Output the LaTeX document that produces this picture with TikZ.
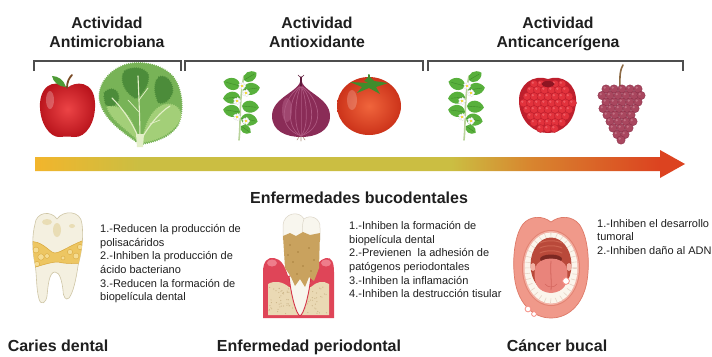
\documentclass[tikz,border=0pt]{standalone}
\usepackage{fontspec}
\setmainfont{Liberation Sans}
\usetikzlibrary{decorations.pathmorphing}

% text and lines
\definecolor{ink}{HTML}{1F1F1F}
\definecolor{bracketgray}{HTML}{4E4E4E}
% arrow gradient
\definecolor{arwA}{HTML}{F2B52C}
\definecolor{arwB}{HTML}{CBBE42}
\definecolor{arwC}{HTML}{D8862F}
\definecolor{arwD}{HTML}{DC4320}
% fruits and vegetables
\definecolor{applered}{HTML}{D9252B}
\definecolor{applelight}{HTML}{EC4446}
\definecolor{appledark}{HTML}{BA151D}
\definecolor{stembrown}{HTML}{7A4A26}
\definecolor{leafgreen}{HTML}{4E9A35}
\definecolor{lettdark}{HTML}{4C8C3A}
\definecolor{lettmid}{HTML}{78B357}
\definecolor{lettlight}{HTML}{A3CF78}
\definecolor{lettpale}{HTML}{E3EFC8}
\definecolor{sprigleaf}{HTML}{58B03C}
\definecolor{sprigvein}{HTML}{3F8A2A}
\definecolor{sprigstem}{HTML}{B8D39A}
\definecolor{onionbase}{HTML}{8A2C57}
\definecolor{onionstripe}{HTML}{AD5880}
\definecolor{oniondark}{HTML}{5E1A3B}
\definecolor{tomred}{HTML}{E1441F}
\definecolor{tomdark}{HTML}{CC331A}
\definecolor{tomlight}{HTML}{F0653C}
\definecolor{calyx}{HTML}{3F8C2C}
\definecolor{rasp}{HTML}{E2323C}
\definecolor{raspline}{HTML}{BE1F2D}
\definecolor{rasplight}{HTML}{EE5A62}
\definecolor{raspnotch}{HTML}{8E1522}
\definecolor{grape}{HTML}{A9475F}
\definecolor{grapeline}{HTML}{8B3049}
\definecolor{grapelight}{HTML}{C06F82}
\definecolor{grapestem}{HTML}{8C6A45}
% teeth and mouth
\definecolor{enamel}{HTML}{F4F0E0}
\definecolor{enamelline}{HTML}{CFC6A6}
\definecolor{enameltan}{HTML}{E9DDB5}
\definecolor{cariesY}{HTML}{EDC662}
\definecolor{cariesL}{HTML}{F5DC92}
\definecolor{cariesD}{HTML}{D9A83C}
\definecolor{gumred}{HTML}{DF4558}
\definecolor{gumlight}{HTML}{F28C98}
\definecolor{bone}{HTML}{EAD9B4}
\definecolor{bonedot}{HTML}{CDB68A}
\definecolor{calculus}{HTML}{C9A25E}
\definecolor{calculusdark}{HTML}{A8803F}
\definecolor{crownw}{HTML}{F8F6EE}
\definecolor{crownline}{HTML}{DCD6C8}
\definecolor{socket}{HTML}{D43347}
\definecolor{lip}{HTML}{F0998A}
\definecolor{lipline}{HTML}{DE7A68}
\definecolor{gumpink}{HTML}{F2B0A3}
\definecolor{toothw}{HTML}{FBF5EC}
\definecolor{toothgap}{HTML}{E6D3C6}
\definecolor{cavity}{HTML}{B9493A}
\definecolor{palate}{HTML}{CC6350}
\definecolor{throat}{HTML}{7C2822}
\definecolor{tongue}{HTML}{E9847B}
\definecolor{tonguemid}{HTML}{D2645C}

\pgfdeclarehorizontalshading{arrowshade}{100bp}{color(0bp)=(arwA); color(25bp)=(arwA); color(33bp)=(arwB); color(57bp)=(arwB); color(63bp)=(arwC); color(73bp)=(arwD); color(100bp)=(arwD)}

\tikzset{
  title/.style={font=\fontsize{15.8}{19}\selectfont\bfseries, text=ink, inner sep=0pt, anchor=base},
  heading/.style={font=\fontsize{16}{19}\selectfont\bfseries, text=ink, inner sep=0pt, anchor=base},
  body/.style={font=\fontsize{11}{13.7}\selectfont, text=ink, align=left, anchor=north west, inner sep=0pt},
  bracketline/.style={draw=bracketgray, line width=1.6pt, line cap=butt, line join=miter},
  ruffle/.style={decorate, decoration={bumps, segment length=4pt, amplitude=1.4pt}},
  lf/.pic={
    \fill[sprigleaf] (0,0) .. controls (2,-8) and (13,-8) .. (17,0) .. controls (13,8) and (2,8) .. (0,0) -- cycle;
    \draw[sprigvein, line width=0.4pt] (1,0) -- (14,0);
  },
  blossom/.pic={
    \foreach \a in {0,72,144,216,288}
      \fill[white, draw=black!15, line width=0.2pt] (\a:2pt) circle[radius=1.9pt];
    \fill[yellow!75!orange] (0,0) circle[radius=1.1pt];
  },
  sprig/.pic={
    \draw[sprigstem, line width=1.6pt] (239,140) .. controls (241,120) and (239,100) .. (244,76);
    \pic[rotate=30, scale=0.85] at (244,80) {lf};
    \pic[rotate=165] at (240,86) {lf};
    \pic[rotate=8] at (243,90) {lf};
    \pic[rotate=185] at (240,97) {lf};
    \pic[rotate=-5] at (242,106) {lf};
    \pic[rotate=172] at (240,112) {lf};
    \pic[rotate=-12] at (241,118) {lf};
    \pic[rotate=-35, scale=0.7] at (241,126) {lf};
    \pic at (242,86) {blossom};
    \pic at (246,93) {blossom};
    \pic at (237,101) {blossom};
    \pic at (237,117) {blossom};
    \pic at (246,121) {blossom};
  }
}

\begin{document}
\begin{tikzpicture}[x=1pt, y=-1pt, line join=round, line cap=round]
\useasboundingbox (0,0) rectangle (712,356);
\fill[white] (0,0) rectangle (712,356);

% ---------- activity titles ----------
\node[title] (ta1) at (107,28) {Actividad};
\node[title] (ta2) at (107,47.5) {Antimicrobiana};
\node[title] (tb1) at (317,28) {Actividad};
\node[title] (tb2) at (317,47.5) {Antioxidante};
\node[title] (tc1) at (558,28) {Actividad};
\node[title] (tc2) at (558,47.5) {Anticancerígena};

% ---------- brackets ----------
\coordinate (ka) at (34,71);  \coordinate (kb) at (181,71);
\coordinate (kc) at (185,71); \coordinate (kd) at (423,71);
\coordinate (ke) at (428,71); \coordinate (kf) at (683,71);
\draw[bracketline] (ka) -- ++(0,-10) -| (kb);
\draw[bracketline] (kc) -- ++(0,-10) -| (kd);
\draw[bracketline] (ke) -- ++(0,-10) -| (kf);

% ---------- apple ----------
\shade[inner color=applelight, outer color=appledark] (67,88) .. controls (60,81) and (42,80) .. (40,103) .. controls (39,123) and (50,138) .. (60,137) .. controls (64,136.5) and (70,136.5) .. (74,137) .. controls (86,138) and (96,122) .. (95,103) .. controls (94,80) and (75,81) .. (67,88) -- cycle;
\fill[white, opacity=0.25] (50,100) ellipse[x radius=4pt, y radius=9pt];
\draw[stembrown, line width=1.8pt] (67,88) .. controls (67,82) and (69,78) .. (72,75);
\fill[leafgreen] (66,87) .. controls (64,80) and (58,76) .. (52,76) .. controls (53,82) and (59,87) .. (66,87) -- cycle;

% ---------- lettuce ----------
\path[fill=lettmid, ruffle] (140,144) .. controls (124,132) and (104,120) .. (100,100) .. controls (98,84) and (110,70) .. (126,65) .. controls (140,61) and (160,64) .. (172,76) .. controls (182,88) and (184,110) .. (178,124) .. controls (170,138) and (152,142) .. (140,144) -- cycle;
\path[fill=lettdark, ruffle] (124,72) .. controls (132,66) and (146,68) .. (148,76) .. controls (148,86) and (142,94) .. (136,98) .. controls (128,94) and (120,84) .. (124,72) -- cycle;
\path[fill=lettdark, ruffle] (158,78) .. controls (165,74) and (173,82) .. (172,92) .. controls (170,99) and (164,104) .. (159,102) .. controls (155,95) and (154,85) .. (158,78) -- cycle;
\path[fill=lettdark, ruffle] (104,94) .. controls (110,86) and (119,90) .. (118,99) .. controls (116,106) and (110,107) .. (106,104) -- cycle;
\path[fill=lettlight, ruffle] (142,142) .. controls (146,126) and (150,112) .. (162,106) .. controls (172,102) and (182,108) .. (180,118) .. controls (176,130) and (160,140) .. (142,142) -- cycle;
\path[fill=lettlight, ruffle] (138,140) .. controls (126,128) and (112,120) .. (108,108) .. controls (118,104) and (130,112) .. (138,140) -- cycle;
\draw[lettpale, line width=1.1pt] (140,142) .. controls (134,125) and (124,110) .. (112,98);
\draw[lettpale, line width=1.1pt] (140,142) .. controls (140,122) and (139,100) .. (138,76);
\draw[lettpale, line width=1.1pt] (140,142) .. controls (148,126) and (160,112) .. (170,106);
\draw[lettpale, line width=0.7pt] (139,112) -- (128,100) (139,100) -- (148,88) (150,124) -- (160,120);
\fill[lettpale] (136,134) -- (144,134) -- (143,147) -- (137,147) -- cycle;

% ---------- herb sprigs ----------
\pic (sprigA) at (0,0) {sprig};
\pic (sprigB) at (225,0) {sprig};

% ---------- red onion ----------
\path[fill=onionbase] (301,79) .. controls (302,92) and (330,97) .. (330,116) .. controls (330,131) and (316,137) .. (301,137) .. controls (286,137) and (272,131) .. (272,116) .. controls (272,97) and (300,92) .. (301,79) -- cycle;
\foreach \k in {-22,-14,-7,0,7,14,22}
  \draw[onionstripe, line width=0.7pt] (301,86) .. controls ({301+0.75*\k},96) and ({301+1.25*\k},126) .. (301,136);
\fill[onionstripe, opacity=0.6] (287,110) ellipse[x radius=5pt, y radius=12pt];
\draw[oniondark, line width=1.4pt] (301,86) -- (301,77);
\draw[oniondark, line width=0.6pt] (301,78) -- (298,75) (301,78) -- (304,75);
\draw[stembrown!60, line width=0.6pt] (299,137) -- (297,140) (301,137) -- (301,141) (303,137) -- (305,140);

% ---------- tomato ----------
\shade[inner color=tomlight, outer color=tomdark] (369,106) ellipse[x radius=32pt, y radius=29pt];
\fill[white, opacity=0.2] (352,100) ellipse[x radius=5pt, y radius=10pt];
\fill[calyx] (369,83) -- (350,82) -- (362,87) -- (357,93) -- (369,88) -- (380,94) -- (376,87) -- (388,83) -- (374,81) -- (369,76) -- (364,81) -- cycle;
\draw[calyx, line width=2pt] (369,84) -- (369,75);

% ---------- raspberry ----------
\fill[raspline] (548,79) .. controls (562,74) and (577,84) .. (576,102) .. controls (575,122) and (562,133) .. (548,133) .. controls (534,133) and (520,122) .. (519,102) .. controls (518,84) and (534,74) .. (548,79) -- cycle;
\foreach \y/\xs in {84/{534,541,555,562},
                   90/{530.5,537.5,544.5,551.5,558.5,565.5},
                   96.5/{527,534,541,548,555,562,569},
                   103/{523.5,530.5,537.5,544.5,551.5,558.5,565.5,572.5},
                   109.5/{527,534,541,548,555,562,569},
                   116/{530.5,537.5,544.5,551.5,558.5,565.5},
                   122.5/{534,541,548,555,562},
                   128.5/{540.5,547.5,554.5}}{
  \foreach \x in \xs {
    \fill[rasp, draw=raspline, line width=0.4pt] (\x,\y) circle[radius=4pt];
    \fill[rasplight] ({\x-1.2},{\y-1.3}) circle[radius=1.3pt];
  }
}
\fill[raspnotch] (548,84) ellipse[x radius=6.5pt, y radius=3pt];

% ---------- grapes ----------
\draw[grapestem, line width=1.6pt] (623,65) .. controls (619,72) and (620,80) .. (620,90);
\foreach \y/\xs in {89/{606,614,622,630,638},
                   95.5/{602,610,618,626,634,641},
                   102/{606,614,622,630,638},
                   108.5/{603,611,619,627,635},
                   115/{607,615,623,631},
                   121.5/{610,618,626,633},
                   128/{613,621,629},
                   134.5/{617,625},
                   140/{621}}{
  \foreach \x in \xs {
    \fill[grape, draw=grapeline, line width=0.4pt] (\x,\y) circle[radius=4.2pt];
    \fill[grapelight] ({\x-1.3},{\y-1.4}) circle[radius=1.2pt];
  }
}

% ---------- gradient arrow ----------
\coordinate (arrowtail) at (35,164);
\coordinate (arrowtip) at (685,164);
\shade[shading=arrowshade] (35,157) -- (660,157) -- (660,150) -- (arrowtip) -- (660,178) -- (660,171) -- (35,171) -- cycle;

\node[heading] (oral) at (359,203) {Enfermedades bucodentales};

% ---------- molar with caries ----------
\path[fill=enamel, draw=enamelline, line width=0.6pt] (35,224) .. controls (36,212) and (51,210) .. (57,219) .. controls (63,210) and (81,210) .. (82,224) .. controls (84,240) and (81,254) .. (78,266) .. controls (76,280) and (73,293) .. (69,298) .. controls (66,301) and (63,297) .. (63,290) .. controls (62,282) and (60,272) .. (55,272) .. controls (49,272) and (48,286) .. (47,296) .. controls (46,303) and (41,306) .. (39,299) .. controls (36,288) and (37,276) .. (35,264) .. controls (32,250) and (32,236) .. (35,224) -- cycle;
\begin{scope}
  \clip (35,224) .. controls (36,212) and (51,210) .. (57,219) .. controls (63,210) and (81,210) .. (82,224) .. controls (84,240) and (81,254) .. (78,266) .. controls (76,280) and (73,293) .. (69,298) .. controls (66,301) and (63,297) .. (63,290) .. controls (62,282) and (60,272) .. (55,272) .. controls (49,272) and (48,286) .. (47,296) .. controls (46,303) and (41,306) .. (39,299) .. controls (36,288) and (37,276) .. (35,264) .. controls (32,250) and (32,236) .. (35,224) -- cycle;
  \fill[enameltan] (47,222) ellipse[x radius=5pt, y radius=3pt];
  \fill[enameltan] (57,230) ellipse[x radius=4pt, y radius=7pt];
  \fill[enameltan] (72,226) ellipse[x radius=3pt, y radius=2pt];
  \path[fill=cariesY, draw=cariesD, line width=0.5pt] (25,243) .. controls (38,238) and (46,248) .. (52,252) .. controls (58,256) and (66,246) .. (90,238) -- (90,262) .. controls (76,264) and (66,264) .. (58,262) .. controls (50,262) and (40,266) .. (25,270) -- cycle;
  \foreach \x/\y/\r in {36/250/3, 41/257/3.2, 37/264/2.6, 47/256/2.4, 70/252/2.6, 76/256/3, 80/247/2.6, 63/258/2}
    \fill[cariesL, draw=cariesD, line width=0.4pt] (\x,\y) circle[radius=\r pt];
\end{scope}

\node[body] (txA) at (100,224) {1.-Reducen la producción de\\polisacáridos\\2.-Inhiben la producción de\\ácido bacteriano\\3.-Reducen la formación de\\biopelícula dental};

% ---------- periodontal tooth ----------
\path[fill=gumred] (263,318) -- (263,272) .. controls (263,261) and (268,257) .. (274,258) .. controls (281,259) and (285,266) .. (288,276) -- (312,276) .. controls (315,266) and (320,259) .. (326,258) .. controls (332,257) and (334,263) .. (334,272) -- (334,318) -- cycle;
\fill[gumlight, opacity=0.8] (272,263) ellipse[x radius=5pt, y radius=3.5pt];
\fill[gumlight, opacity=0.8] (326,263) ellipse[x radius=5pt, y radius=3.5pt];
\path[fill=bone] (268,315) -- (268,284) .. controls (275,280) and (283,282) .. (289,287) -- (311,287) .. controls (316,282) and (323,280) .. (329,284) -- (329,315) -- cycle;
\pgfmathsetseed{11}
\foreach \i in {1,...,90}{
  \pgfmathsetmacro\bx{269+59*rnd}
  \pgfmathsetmacro\by{287+27*rnd}
  \fill[bonedot] (\bx,\by) circle[radius=0.6pt];
}
\path[fill=crownw, draw=socket, line width=0.9pt] (289,276) .. controls (291,295) and (296,314) .. (300,316) .. controls (304,314) and (309,295) .. (311,276) -- cycle;
\path[fill=crownw, draw=crownline, line width=0.5pt] (283,240) -- (283,225) .. controls (284,213) and (299,210) .. (304,219) .. controls (310,214) and (321,218) .. (320,228) -- (320,240) -- cycle;
\draw[crownline, line width=0.5pt] (304,219) .. controls (302,224) and (302,230) .. (303,236);
\path[fill=calculus] (283,236) -- (290,233) -- (296,236) -- (303,232) -- (310,235) -- (320,233) -- (319,268) -- (314,281) -- (309,277) -- (305,287) -- (300,279) -- (295,286) -- (291,277) -- (285,268) -- cycle;
\foreach \x/\y in {290/245, 298/252, 309/248, 314/260, 293/262, 303/266, 288/255, 311/271, 297/274}
  \fill[calculusdark] (\x,\y) circle[radius=0.9pt];

\node[body] (txB) at (349,221) {1.-Inhiben la formación de\\biopelícula dental\\2.-Previenen\ \ la adhesión de\\patógenos periodontales\\3.-Inhiben la inflamación\\4.-Inhiben la destrucción tisular};

% ---------- open mouth ----------
\path[fill=lip, draw=lipline, line width=0.7pt] (551,222) .. controls (560,215) and (572,216) .. (579,224) .. controls (588,236) and (590,262) .. (587,281) .. controls (583,305) and (568,318) .. (551,318) .. controls (534,318) and (519,305) .. (515,281) .. controls (512,262) and (514,236) .. (523,224) .. controls (530,216) and (542,215) .. (551,222) -- cycle;
\fill[lipline!70!lip] (551,268) ellipse[x radius=29pt, y radius=38pt];
\fill[gumpink] (551,268) ellipse[x radius=28pt, y radius=37pt];
\fill[toothw] (551,268) ellipse[x radius=26.5pt, y radius=35.5pt];
\draw[toothgap, line width=5pt, dash pattern=on 0.6pt off 5pt, line cap=butt] (551,268) ellipse[x radius=24pt, y radius=33pt];
\fill[cavity] (551,265) ellipse[x radius=20.5pt, y radius=27.5pt];
\foreach \yy in {243,248,253}
  \draw[palate, line width=1pt] (540,\yy) .. controls (546,{\yy-3}) and (556,{\yy-3}) .. (562,\yy);
\fill[throat] (551,259) ellipse[x radius=11pt, y radius=4.5pt];
\fill[gumpink] (533,267) ellipse[x radius=2.5pt, y radius=4pt];
\fill[gumpink] (569,267) ellipse[x radius=2.5pt, y radius=4pt];
\path[fill=tongue] (535,269) .. controls (537,255) and (565,255) .. (567,269) .. controls (569,284) and (564,292) .. (551,293) .. controls (538,292) and (533,284) .. (535,269) -- cycle;
\draw[tonguemid, line width=0.8pt] (551,261) .. controls (550,272) and (552,282) .. (551,290);
\draw[tonguemid, line width=0.5pt] (545,284) .. controls (548,288) and (554,288) .. (557,284);
\foreach \x/\y/\r in {566/281/3.4, 528/309/2.9, 534/314/2.4}
  \fill[white, draw=gumpink!80!red, line width=0.8pt] (\x,\y) circle[radius=\r pt];

\node[body] (txC) at (597,219) {1.-Inhiben el desarrollo\\tumoral\\2.-Inhiben daño al ADN};

% ---------- disease labels ----------
\node[heading] (caries) at (58,351) {Caries dental};
\node[heading] (perio) at (309,351) {Enfermedad periodontal};
\node[heading] (cancer) at (557,351) {Cáncer bucal};
\end{tikzpicture}
\end{document}
